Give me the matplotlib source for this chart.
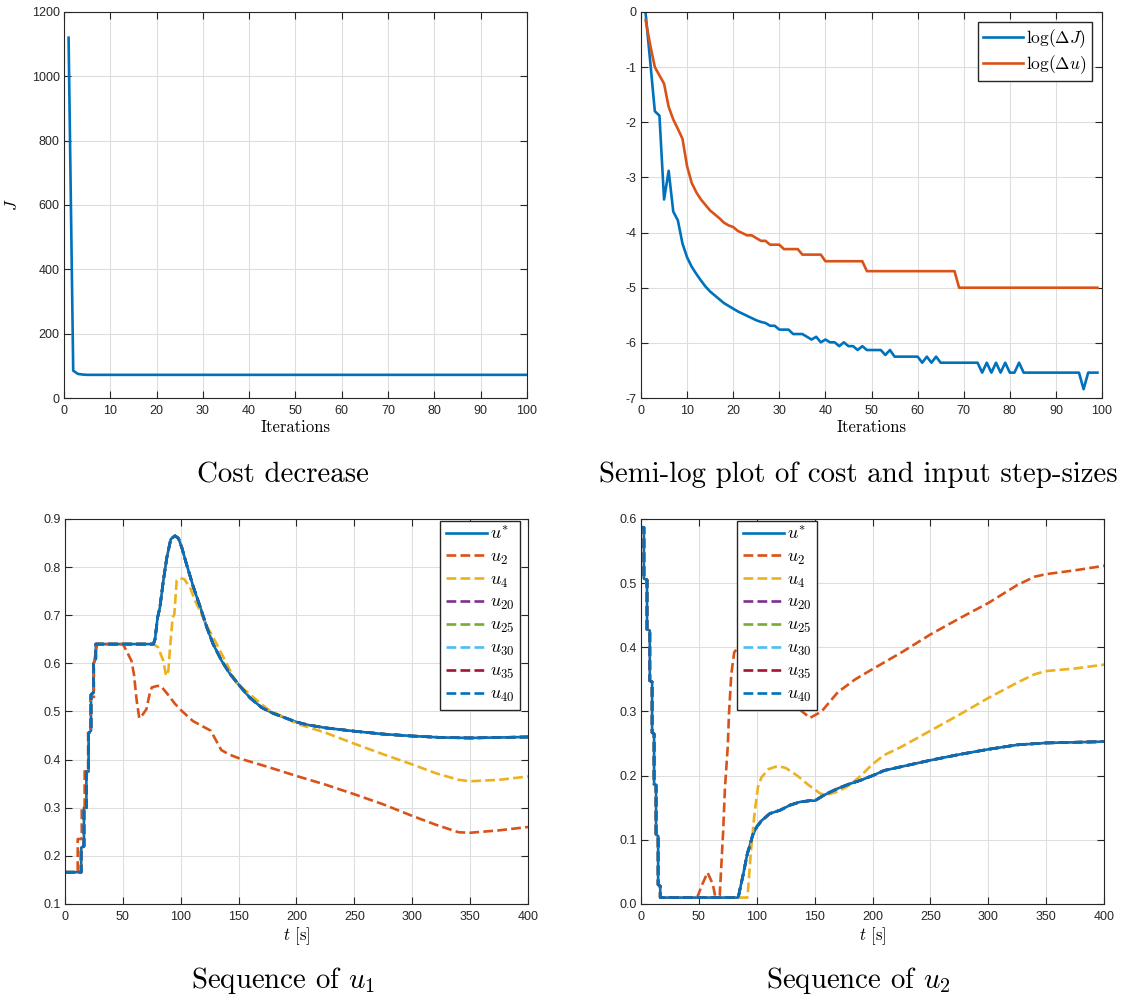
import numpy as np
import matplotlib
matplotlib.use("Agg")
import matplotlib.pyplot as plt

# ---------------- data ----------------
# cost J per iteration (break points, flat afterwards)
iters_J = [1, 2, 3, 4, 5, 100]
cost_J = [1120, 85, 75, 73, 72, 72]

# semi-log of cost and input step sizes, iterations 1..99
iters_log = list(range(1, 100))
log_dJ = [-0.02, -0.9, -1.80, -1.88, -3.40, -2.88, -3.62, -3.78, -4.20, -4.45,
          -4.62, -4.75, -4.87, -4.98, -5.07, -5.14, -5.21, -5.28, -5.33, -5.38,
          -5.43, -5.47, -5.51, -5.55, -5.59, -5.62, -5.64, -5.69, -5.69, -5.76,
          -5.76, -5.76, -5.84, -5.84, -5.84, -5.89, -5.94, -5.89, -5.99, -5.94,
          -5.99, -5.99, -6.06, -5.99, -6.06, -6.06, -6.13, -6.06, -6.13, -6.13,
          -6.13, -6.13, -6.22, -6.13, -6.25, -6.25, -6.25, -6.25, -6.25, -6.25,
          -6.36, -6.25, -6.36, -6.25, -6.36, -6.36, -6.36, -6.36, -6.36, -6.36,
          -6.36, -6.36, -6.36, -6.54, -6.36, -6.54, -6.36, -6.54, -6.36, -6.54,
          -6.54, -6.36, -6.54, -6.54, -6.54, -6.54, -6.54, -6.54, -6.54, -6.54,
          -6.54, -6.54, -6.54, -6.54, -6.54, -6.84, -6.54, -6.54, -6.54]
log_du = [-0.15, -0.60, -1.00, -1.15, -1.30, -1.72, -1.95, -2.12, -2.30, -2.80,
          -3.10, -3.27, -3.40, -3.50, -3.60, -3.67, -3.74, -3.82, -3.87, -3.90,
          -3.97, -4.01, -4.05, -4.05, -4.10, -4.15, -4.15, -4.22, -4.22, -4.22,
          -4.30, -4.30, -4.30, -4.30, -4.40, -4.40, -4.40, -4.40, -4.40, -4.52,
          -4.52, -4.52, -4.52, -4.52, -4.52, -4.52, -4.52, -4.52, -4.70, -4.70,
          -4.70, -4.70, -4.70, -4.70, -4.70, -4.70, -4.70, -4.70, -4.70, -4.70,
          -4.70, -4.70, -4.70, -4.70, -4.70, -4.70, -4.70, -4.70, -5.00, -5.00,
          -5.00, -5.00, -5.00, -5.00, -5.00, -5.00, -5.00, -5.00, -5.00, -5.00,
          -5.00, -5.00, -5.00, -5.00, -5.00, -5.00, -5.00, -5.00, -5.00, -5.00,
          -5.00, -5.00, -5.00, -5.00, -5.00, -5.00, -5.00, -5.00, -5.00]

# input u1: optimum and iterates
t1_opt = [0, 14, 14, 16.4, 16.4, 18.5, 18.5, 20.4, 20.4, 22.5, 22.5, 24.7, 24.7,
          26.6, 26.6, 76.4, 77.8, 80, 82, 85, 88, 91.4, 95, 98, 101, 105, 111,
          117, 122.5, 128, 135.4, 142.6, 151, 160, 170, 180, 190, 200, 210, 225,
          250, 275, 300, 325, 350, 375, 400]
u1_opt = [0.166, 0.166, 0.217, 0.22, 0.30, 0.30, 0.375, 0.375, 0.455, 0.46,
          0.535, 0.54, 0.60, 0.61, 0.64, 0.64, 0.65, 0.695, 0.716, 0.772, 0.82,
          0.858, 0.865, 0.86, 0.84, 0.806, 0.758, 0.716, 0.675, 0.64, 0.605,
          0.578, 0.553, 0.528, 0.508, 0.496, 0.487, 0.478, 0.472, 0.466, 0.459,
          0.453, 0.449, 0.446, 0.445, 0.446, 0.447]
t1_it2 = [0, 11, 11, 14.5, 14.5, 17, 17, 20, 20, 22, 22, 25, 25, 27.8, 50, 52.5,
          57.5, 59.6, 62, 64.2, 67.3, 70.4, 73, 75, 79.7, 82.8, 89, 95, 101,
          110.6, 119.8, 126, 130.7, 135, 141.5, 150, 175, 200, 225, 250, 275,
          300, 320, 340, 350, 375, 400]
u1_it2 = [0.166, 0.166, 0.235, 0.235, 0.30, 0.30, 0.38, 0.38, 0.46, 0.46, 0.53,
          0.53, 0.60, 0.64, 0.64, 0.629, 0.605, 0.577, 0.522, 0.486, 0.494,
          0.505, 0.535, 0.55, 0.553, 0.553, 0.535, 0.516, 0.501, 0.48, 0.468,
          0.46, 0.439, 0.42, 0.411, 0.403, 0.385, 0.366, 0.348, 0.328, 0.307,
          0.283, 0.265, 0.249, 0.248, 0.253, 0.26]
t1_it4 = [0, 14, 14, 16.4, 16.4, 18.5, 18.5, 20.4, 20.4, 22.5, 22.5, 24.7, 24.7,
          26.6, 26.6, 76.4, 80.7, 82.7, 85, 87.3, 89.3, 90.8, 93, 94.5, 96.5,
          99.4, 103, 108, 112.4, 116.7, 122.5, 130, 137, 148, 160, 175, 200,
          225, 250, 275, 300, 320, 340, 350, 375, 400]
u1_it4 = [0.166, 0.166, 0.217, 0.22, 0.30, 0.30, 0.375, 0.375, 0.455, 0.46,
          0.535, 0.54, 0.60, 0.61, 0.64, 0.64, 0.633, 0.619, 0.605, 0.574, 0.584,
          0.633, 0.695, 0.702, 0.772, 0.777, 0.775, 0.758, 0.73, 0.709, 0.678,
          0.645, 0.612, 0.56, 0.535, 0.505, 0.475, 0.456, 0.433, 0.411, 0.39,
          0.372, 0.358, 0.355, 0.358, 0.365]

# input u2: optimum and iterates
t2_opt = [0, 2.5, 2.5, 5.2, 5.2, 7.6, 7.6, 9.6, 9.6, 11.3, 11.3, 13, 13, 14.8,
          14.8, 16.6, 16.6, 84, 85.5, 88.4, 89.8, 91.8, 94, 96.4, 99.9, 104.2,
          111.4, 120, 128.7, 137.3, 146, 150.3, 157.5, 163, 170, 180, 190, 200,
          210, 225, 250, 275, 300, 325, 350, 375, 400]
u2_opt = [0.587, 0.587, 0.507, 0.505, 0.428, 0.426, 0.348, 0.346, 0.267, 0.265,
          0.187, 0.185, 0.108, 0.106, 0.03, 0.028, 0.01, 0.01, 0.023, 0.047,
          0.06, 0.078, 0.091, 0.107, 0.12, 0.13, 0.141, 0.146, 0.154, 0.159,
          0.161, 0.161, 0.169, 0.174, 0.18, 0.187, 0.193, 0.2, 0.208, 0.214,
          0.224, 0.233, 0.241, 0.248, 0.251, 0.252, 0.253]
t2_it2 = [0, 2.5, 2.5, 5.2, 5.2, 7.6, 7.6, 9.6, 9.6, 11.3, 11.3, 13, 13, 14.8,
          14.8, 16.6, 16.6, 48.5, 53, 57.5, 62, 64, 68, 71, 72.5, 75, 76, 78,
          80.5, 84.5, 95, 105, 115, 125, 135, 146, 156, 170, 185, 200, 225, 250,
          275, 300, 325, 340, 350, 375, 400]
u2_it2 = [0.587, 0.587, 0.507, 0.505, 0.428, 0.426, 0.348, 0.346, 0.267, 0.265,
          0.187, 0.185, 0.108, 0.106, 0.03, 0.028, 0.01, 0.01, 0.031, 0.049,
          0.031, 0.013, 0.013, 0.114, 0.18, 0.247, 0.296, 0.358, 0.392, 0.402,
          0.41, 0.39, 0.36, 0.33, 0.306, 0.29, 0.30, 0.33, 0.35, 0.366, 0.392,
          0.42, 0.445, 0.469, 0.497, 0.51, 0.514, 0.52, 0.527]
t2_it4 = [0, 2.5, 2.5, 5.2, 5.2, 7.6, 7.6, 9.6, 9.6, 11.3, 11.3, 13, 13, 14.8,
          14.8, 16.6, 16.6, 92, 95, 98, 101, 104, 110, 118, 125, 135, 145, 155,
          160, 170, 180, 190, 200, 210, 225, 250, 275, 300, 325, 340, 350, 375,
          400]
u2_it4 = [0.587, 0.587, 0.507, 0.505, 0.428, 0.426, 0.348, 0.346, 0.267, 0.265,
          0.187, 0.185, 0.108, 0.106, 0.03, 0.028, 0.01, 0.01, 0.083, 0.14,
          0.182, 0.197, 0.21, 0.215, 0.212, 0.2, 0.185, 0.172, 0.17, 0.175,
          0.185, 0.2, 0.218, 0.232, 0.245, 0.27, 0.295, 0.321, 0.345, 0.358,
          0.363, 0.367, 0.373]

later_labels = ["$u_{20}$", "$u_{25}$", "$u_{30}$", "$u_{35}$", "$u_{40}$"]

# MATLAB default colour order
c_blue = (0, 0.447, 0.741)
c_orange = (0.85, 0.325, 0.098)
c_yellow = (0.929, 0.694, 0.125)
c_purple = (0.494, 0.184, 0.556)
c_green = (0.466, 0.674, 0.188)
c_cyan = (0.301, 0.745, 0.933)
c_maroon = (0.635, 0.078, 0.184)
later_colors = [c_purple, c_green, c_cyan, c_maroon, c_blue]

plt.rcParams["mathtext.fontset"] = "cm"
plt.rcParams["axes.unicode_minus"] = False
plt.rcParams["font.family"] = ["Liberation Sans", "DejaVu Sans"]

axc = "#262626"
lw = 1.9

fig = plt.figure(figsize=(11.22, 9.98), dpi=100)


def style(ax):
    ax.grid(True, color="#dedede", lw=0.8)
    ax.set_axisbelow(True)
    ax.tick_params(direction="in", top=True, right=True, length=5, width=0.8,
                   colors=axc, labelsize=9)
    ax.tick_params(axis="y", pad=3)
    ax.tick_params(axis="x", pad=5)
    for s in ax.spines.values():
        s.set_color(axc)
        s.set_linewidth(0.8)


leg_kw = dict(fancybox=False, framealpha=1, edgecolor=axc, handlelength=2.3,
              handletextpad=0.15, borderpad=0.3)

# ---------------- cost decrease ----------------
ax1 = fig.add_axes([0.057, 0.6012, 0.4127, 0.3868])
ax1.plot(iters_J, cost_J, color=c_blue, lw=lw)
ax1.set_xlim(0, 100)
ax1.set_ylim(0, 1200)
ax1.set_xticks(range(0, 101, 10))
ax1.set_yticks(range(0, 1201, 200))
ax1.set_xlabel("Iterations", family="cmr10", fontsize=12, labelpad=2)
ax1.set_ylabel("$J$", fontsize=12)
ax1.yaxis.set_label_coords(-0.095, 0.5)
style(ax1)

# ---------------- semi-log ----------------
ax2 = fig.add_axes([0.5713, 0.6012, 0.4109, 0.3868])
ax2.plot(iters_log, log_dJ, color=c_blue, lw=lw, label=r"$\log(\Delta J)$")
ax2.plot(iters_log, log_du, color=c_orange, lw=lw, label=r"$\log(\Delta u)$")
ax2.set_xlim(0, 100)
ax2.set_ylim(-7, 0)
ax2.set_xticks(range(0, 101, 10))
ax2.set_yticks(range(-7, 1))
ax2.set_xlabel("Iterations", family="cmr10", fontsize=12, labelpad=2)
style(ax2)
ax2.legend(loc="upper right", fontsize=12.5, labelspacing=0.15,
           borderaxespad=0.6, **leg_kw)

# ---------------- sequence of u1 / u2 ----------------
panels = [
    ([0.0579, 0.0942, 0.4127, 0.3858], (t1_opt, u1_opt), (t1_it2, u1_it2),
     (t1_it4, u1_it4), (0.1, 0.9), (0.982, 0.995)),
    ([0.5713, 0.0942, 0.4127, 0.3858], (t2_opt, u2_opt), (t2_it2, u2_it2),
     (t2_it4, u2_it4), (0, 0.6), (0.38, 0.995)),
]
for pos, opt, it2, it4, ylim, anchor in panels:
    ax = fig.add_axes(pos)
    ax.plot(opt[0], opt[1], color=c_blue, lw=lw, label="$u^{*}$")
    ax.plot(it2[0], it2[1], "--", color=c_orange, lw=lw, label="$u_2$")
    ax.plot(it4[0], it4[1], "--", color=c_yellow, lw=lw, label="$u_4$")
    for lab, col in zip(later_labels, later_colors):
        ax.plot(opt[0], opt[1], "--", color=col, lw=lw, label=lab)
    ax.set_xlim(0, 400)
    ax.set_ylim(*ylim)
    ax.set_xticks(range(0, 401, 50))
    ax.set_yticks(np.round(np.arange(ylim[0], ylim[1] + 0.01, 0.1), 1))
    ax.set_xlabel("$t$ [s]", family="cmr10", fontsize=12, labelpad=2)
    style(ax)
    ax.legend(loc="upper right", bbox_to_anchor=anchor, fontsize=13,
              labelspacing=0.27, borderaxespad=0, **leg_kw)

# ---------------- captions ----------------
fig.text(0.2525, 0.524, "Cost decrease", family="cmr10", fontsize=20.8,
         ha="center", va="center")
fig.text(0.765, 0.524, "Semi-log plot of cost and input step-sizes",
         family="cmr10", fontsize=20.8, ha="center", va="center")
fig.text(0.2525, 0.018, "Sequence of $u_1$", family="cmr10", fontsize=20.8,
         ha="center", va="center")
fig.text(0.765, 0.018, "Sequence of $u_2$", family="cmr10", fontsize=20.8,
         ha="center", va="center")

fig.savefig("out.png", dpi=100)
